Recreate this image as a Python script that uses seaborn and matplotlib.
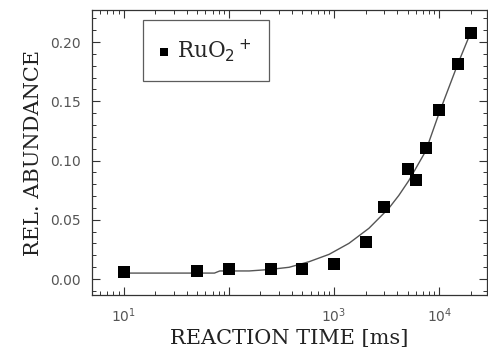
import matplotlib
matplotlib.use('Agg')
import matplotlib.pyplot as plt
import seaborn as sns
import pandas as pd
from matplotlib.ticker import FixedLocator, FixedFormatter, MultipleLocator, LogLocator, NullFormatter

time_ms = [10, 50, 100, 250, 500, 1000, 2000, 3000, 5000, 6000, 7500, 10000, 15000, 20000]
abundance = [0.0059, 0.0068, 0.0084, 0.0084, 0.0084, 0.0127, 0.0312, 0.0608,
             0.0928, 0.0836, 0.1106, 0.1426, 0.1815, 0.2076]

# fitted curve
fit_time = [10, 73, 82, 156, 242, 374, 579, 897, 1387, 2148, 3321, 4130, 5140,
            7450, 9890, 14960, 20800]
fit_abund = [0.005, 0.005, 0.0068, 0.0068, 0.008, 0.0099, 0.0146, 0.0208, 0.0301,
             0.0428, 0.0597, 0.0705, 0.083, 0.108, 0.139, 0.181, 0.212]

xtick_pos = [10, 100, 1000, 10000]
xtick_lab = ['$10^1$', '', '$10^3$', '$10^4$']

pts = pd.DataFrame({'t': time_ms, 'a': abundance})
fit = pd.DataFrame({'t': fit_time, 'a': fit_abund})

sns.set_style('ticks')
plt.rcParams['font.family'] = ['DejaVu Sans']

fig = plt.figure(figsize=(4.88, 3.49), dpi=100)
ax = fig.add_axes([0.1885, 0.1547, 0.8095, 0.8166])

sns.lineplot(data=fit, x='t', y='a', color='#555555', linewidth=1.0, ax=ax)
sns.scatterplot(data=pts, x='t', y='a', marker='s', s=70, color='black',
                edgecolor='black', linewidth=0, ax=ax, zorder=3, label='RuO$_2$$^+$')

ax.set_xscale('log')
ax.set_xlim(5, 2.85e4)
ax.set_ylim(-0.0135, 0.227)

ax.xaxis.set_major_locator(FixedLocator(xtick_pos))
ax.xaxis.set_major_formatter(FixedFormatter(xtick_lab))
ax.xaxis.set_minor_locator(LogLocator(base=10, subs=range(2, 10)))
ax.xaxis.set_minor_formatter(NullFormatter())
ax.yaxis.set_major_locator(MultipleLocator(0.05))
ax.yaxis.set_minor_locator(MultipleLocator(0.01))
ax.yaxis.set_major_formatter(matplotlib.ticker.FormatStrFormatter('%.2f'))

ax.tick_params(which='both', direction='in', top=True, right=True, color='#333333')
ax.tick_params(which='major', length=6, width=0.8, labelsize=10, labelcolor='#555555', pad=8)
ax.tick_params(which='minor', length=3, width=0.7)
for sp in ax.spines.values():
    sp.set_linewidth(0.9)
    sp.set_color('#333333')

ax.set_xlabel('REACTION TIME [ms]', fontfamily='DejaVu Serif', fontsize=15,
              color='#222222', labelpad=3)
ax.set_ylabel('REL. ABUNDANCE', fontfamily='DejaVu Serif', fontsize=15,
              color='#222222', labelpad=5)

leg = ax.legend(loc='upper left', bbox_to_anchor=(0.129, 0.965), borderaxespad=0,
                frameon=True, fancybox=False,
                prop={'family': 'DejaVu Serif', 'size': 15.5}, handletextpad=0.4,
                borderpad=0.8, markerscale=0.7, handlelength=0.4)
leg.get_frame().set_edgecolor('#333333')
leg.get_frame().set_linewidth(0.9)

fig.savefig('out.png', dpi=100)
